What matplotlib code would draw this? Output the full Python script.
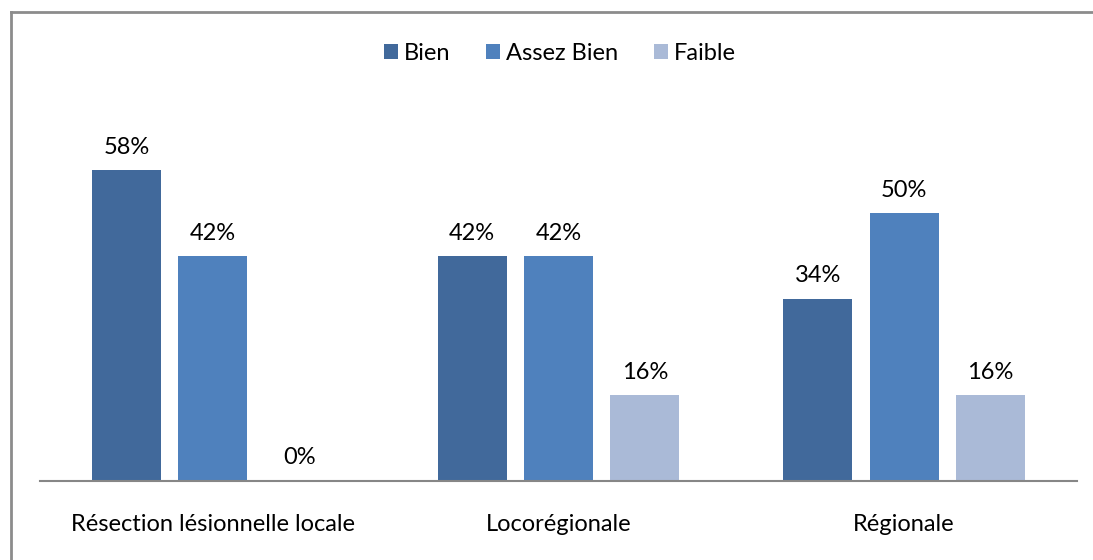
import matplotlib
matplotlib.use("Agg")
import matplotlib.pyplot as plt
from matplotlib.lines import Line2D
import numpy as np

categories = ["Résection lésionnelle locale", "Locorégionale", "Régionale"]
series = ["Bien", "Assez Bien", "Faible"]
bien = [58, 42, 34]
assez_bien = [42, 42, 50]
faible = [0, 16, 16]
colors = ["#41699B", "#4F81BD", "#AABAD7"]

plt.rcParams['font.family'] = ['Lato', 'DejaVu Sans']
FS = 17

fig = plt.figure(figsize=(10.93, 5.60), dpi=100)
ax = fig.add_axes([40/1093, 79/560, 1037/1093, 375/560])

x = np.arange(len(categories))
width = 0.2
step = 0.25
for i, (name, vals) in enumerate(zip(series, [bien, assez_bien, faible])):
    pos = x + (i - 1) * step
    bars = ax.bar(pos, vals, width, color=colors[i], label=name)
    for p, v in zip(pos, vals):
        ax.annotate(f"{v}%", (p, v), xytext=(0, 9), textcoords="offset points",
                    ha="center", va="bottom", fontsize=FS, color="#000000")

ax.set_xlim(-0.5, 2.5)
ax.set_ylim(0, 70)
ax.set_yticks([])
ax.set_xticks(x)
ax.set_xticklabels(categories, fontsize=FS)
ax.tick_params(axis='x', length=0, pad=24)
for s in ["top", "right", "left"]:
    ax.spines[s].set_visible(False)
ax.spines["bottom"].set_color("#868686")
ax.spines["bottom"].set_linewidth(1.5)

ax.legend(loc="center", bbox_to_anchor=(560/1093, 1 - 53/560), bbox_transform=fig.transFigure,
          ncol=3, frameon=False, fontsize=FS, handlelength=0.6, handleheight=0.6,
          handletextpad=0.25, columnspacing=1.5)

fig.add_artist(Line2D([11/1093, 11/1093], [0, 1 - 12/560], color="#8C8C8C", lw=2, transform=fig.transFigure))
fig.add_artist(Line2D([11/1093, 1], [1 - 12/560, 1 - 12/560], color="#8C8C8C", lw=2, transform=fig.transFigure))

fig.savefig("out.png", dpi=100, facecolor="white")
